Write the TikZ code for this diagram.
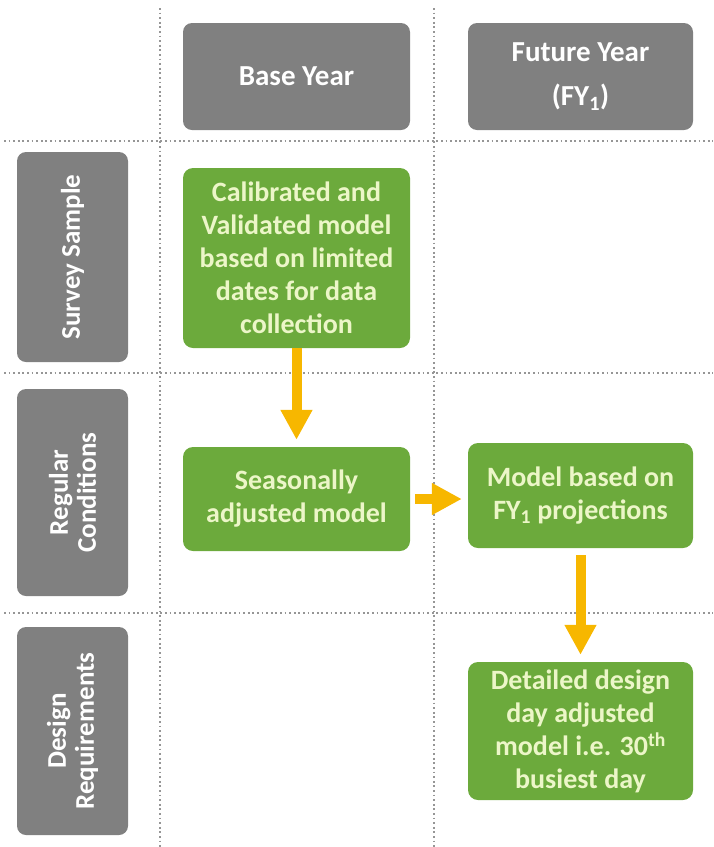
\documentclass[tikz,border=0pt]{standalone}
\usepackage{fontspec}
\setmainfont{Carlito}
\usetikzlibrary{arrows.meta}
\definecolor{hdrgrey}{RGB}{128,128,128}
\definecolor{boxgreen}{RGB}{108,170,60}
\definecolor{greentext}{RGB}{236,246,200}
\definecolor{arroworange}{RGB}{247,183,0}
\definecolor{dotgrey}{RGB}{150,150,150}
\tikzset{
  greybox/.style={fill=hdrgrey, rounded corners=9pt, text=white, align=center,
    font=\fontsize{29}{44}\selectfont\bfseries, inner sep=0pt},
  sidetext/.style={rotate=90, text=white, align=center, inner sep=0pt,
    font=\fontsize{27}{28}\selectfont\bfseries},
  greenbox/.style={fill=boxgreen, rounded corners=10pt, text=greentext, align=center,
    font=\fontsize{28}{33}\selectfont\bfseries, inner sep=0pt},
  gridline/.style={dotgrey, line width=1.8pt, dash pattern=on 1.8pt off 2.8pt},
  flow/.style={arroworange, line width=10pt, -{Triangle[width=30pt,length=30pt]}}
}
\begin{document}
\begin{tikzpicture}[x=1pt,y=-1pt]
\useasboundingbox (0,0) rectangle (713,847);
% grid lines
\draw[gridline] (160,8) -- (160,847);
\draw[gridline] (434,8) -- (434,847);
\draw[gridline] (4,141) -- (713,141);
\draw[gridline] (4,373) -- (713,373);
\draw[gridline] (4,613) -- (713,613);
% headers
\node[greybox, minimum width=227pt, minimum height=107pt] (base) at (296.5,76.5) {Base Year};
\node[greybox, minimum width=225pt, minimum height=107pt] (fy) at (580.5,76.5) {Future Year\\(FY\textsubscript{1})};
% row labels
\node[greybox, minimum width=111pt, minimum height=210pt] (ss) at (72.5,257) {};
\node[sidetext] (sst) at (ss.center) {Survey Sample};
\node[greybox, minimum width=111pt, minimum height=207pt] (rc) at (72.5,492.5) {};
\node[sidetext] (rct) at (rc.center) {Regular\\Conditions};
\node[greybox, minimum width=111pt, minimum height=208pt] (dr) at (72.5,731) {};
\node[sidetext] (drt) at (dr.center) {Design\\Requirements};
% green process boxes
\node[greenbox, minimum width=227pt, minimum height=180pt] (cal) at (296.5,258) {Calibrated and\\Validated model\\based on limited\\dates for data\\collection};
\node[greenbox, minimum width=227pt, minimum height=104pt] (sea) at (296.5,499) {Seasonally\\adjusted model};
\node[greenbox, minimum width=225pt, minimum height=105pt] (mod) at (580.5,495.5) {Model based on\\FY\textsubscript{1} projections};
\node[greenbox, minimum width=225pt, minimum height=138pt] (det) at (580.5,731) {Detailed design\\day adjusted\\model i.e. 30\textsuperscript{th}\\busiest day};
% arrows
\draw[flow, shorten >=7pt] (cal.south) -- (sea.north);
\draw[flow, shorten <=5pt, shorten >=6pt] (sea.east) -- (sea.east -| mod.west);
\draw[flow, shorten <=7pt, shorten >=7pt] (mod.south) -- (det.north);
\end{tikzpicture}
\end{document}
